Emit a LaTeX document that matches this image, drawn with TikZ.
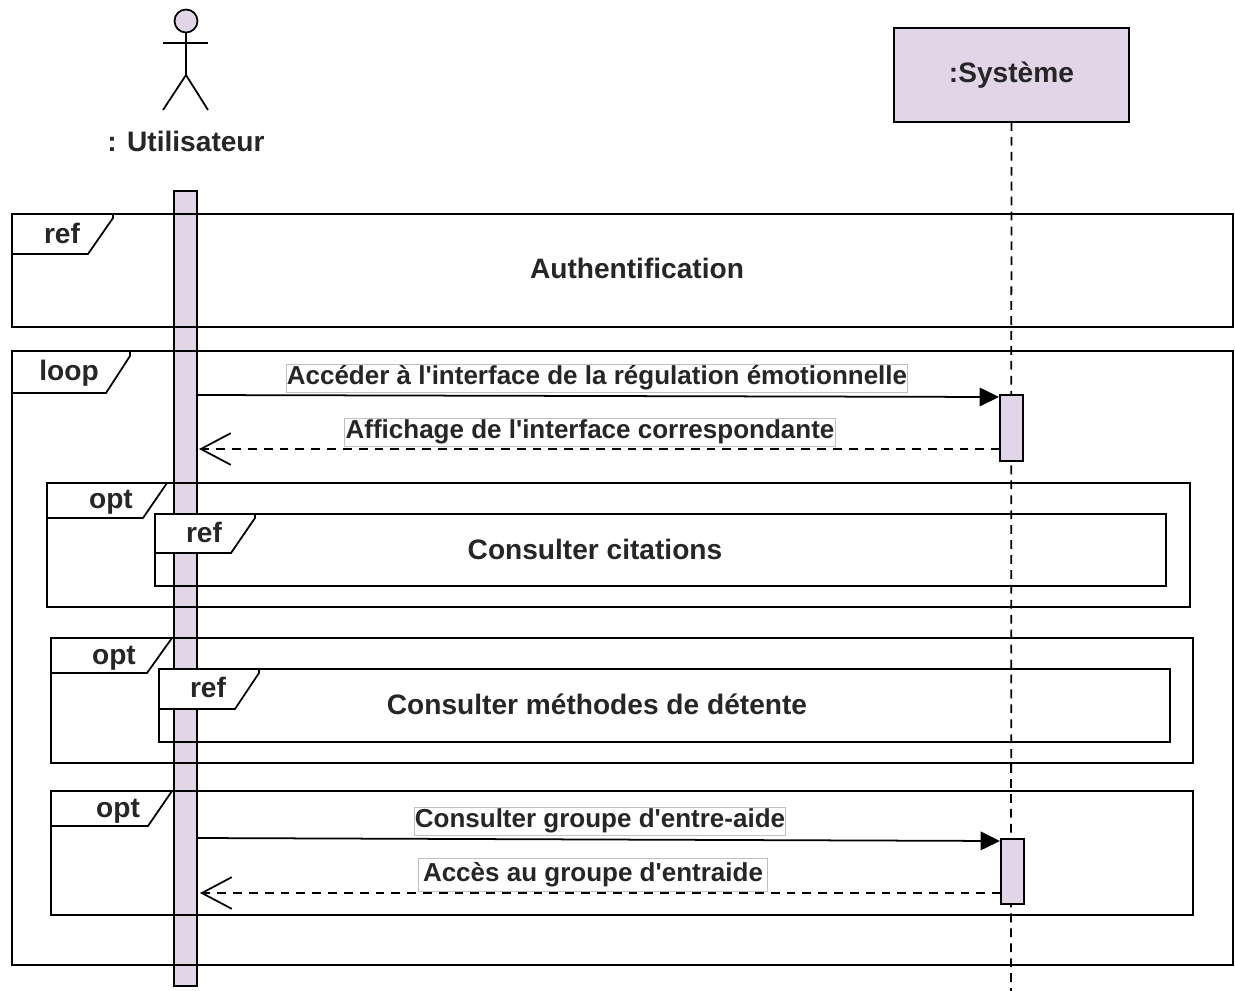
\documentclass[tikz,border=0pt]{standalone}
\usepackage{fontspec}
\setmainfont[Ligatures=TeXOff]{Liberation Sans}
\usetikzlibrary{arrows.meta,positioning}
\definecolor{lilac}{HTML}{E1D5E7}

\begin{document}
\begin{tikzpicture}[
  x=0.02cm,y=-0.02cm,line width=1pt,%
  every node/.style={font=\bfseries\fontsize{16}{18}\selectfont,text=black!85,inner sep=0pt,outer sep=0pt},%
  frame/.style={draw,anchor=north west},%
  tab/.style={draw,fill=white,line join=miter},%
  bar/.style={draw,fill=lilac,anchor=north west,minimum width=0.46cm},%
  msg/.style={font=\bfseries\fontsize{14.8}{16}\selectfont,draw=black!25,line width=.5pt,fill=white,inner sep=.4pt,minimum height=.56cm},%
  call/.style={-{Triangle[length=11pt,width=10.5pt]}},%
  back/.style={dashed,dash pattern=on 5pt off 4pt,-{Straight Barb[length=17pt,width=18pt,line width=1pt]}},%
  ]
  \useasboundingbox (0,0) rectangle (1235,991);
  % lifelines
  \node (ul) [bar,minimum height=15.9cm] at (174,191) {};
  \node (sys) [draw,fill=lilac,anchor=north west,minimum width=4.7cm,minimum height=1.88cm] at (894,28) {:Système};
  % actor
  \node (head) [draw,fill=lilac,circle,minimum size=.46cm] at (186,21) {};
  \coordinate (hip) at (186,75);
  \draw (head) -- (hip);
  \draw (163,43) -- (208,43);
  \draw (163,110) -- (hip) -- (208,110);
  \node (ulname) at (186,141) {: Utilisateur};
  % frames
  \node (f1) [frame,minimum width=24.42cm,minimum height=2.26cm] at (12,214) {};
  \node (f2) [frame,minimum width=24.42cm,minimum height=12.28cm] at (12,351) {};
  \node (f3) [frame,minimum width=22.86cm,minimum height=2.48cm] at (47,483) {};
  \node (f4) [frame,minimum width=22.84cm,minimum height=2.5cm] at (51,638) {};
  \node (f5) [frame,minimum width=22.84cm,minimum height=2.48cm] at (51,791) {};
  \draw [tab] (f1.north west) -- ++(101,0) -- ++(0,4) -- ++(-25,36) -- ++(-76,0) -- cycle;
  \draw [tab] (f2.north west) -- ++(118,0) -- ++(0,5) -- ++(-24,37) -- ++(-94,0) -- cycle;
  \draw [tab] (f3.north west) -- ++(120,0) -- ++(-24,35) -- ++(-96,0) -- cycle;
  \draw [tab] (f4.north west) -- ++(121,0) -- ++(-25,35) -- ++(-96,0) -- cycle;
  \draw [tab] (f5.north west) -- ++(121,0) -- ++(-24,35) -- ++(-97,0) -- cycle;
  \node (f6) [frame,minimum width=20.22cm,minimum height=1.44cm] at (155,514) {};
  \node (f7) [frame,minimum width=20.22cm,minimum height=1.46cm] at (159,669) {};
  \draw [tab] (f6.north west) -- ++(100,0) -- ++(0,4) -- ++(-24,35) -- ++(-76,0) -- cycle;
  \draw [tab] (f7.north west) -- ++(100,0) -- ++(0,4) -- ++(-24,36) -- ++(-76,0) -- cycle;
  % frame labels
  \node (l1) at (62,233) {ref};
  \node (l2) at (69,373) {loop};
  \node (l3) at (111,502) {opt};
  \node (l4) at (204,532) {ref};
  \node (l5) at (114,658) {opt};
  \node (l6) at (208,687) {ref};
  \node (l7) at (118,811) {opt};
  \node (t1) at (637,268) {Authentification};
  \node (t2) at (595,549) {Consulter citations};
  \node (t3) at (597,704) {Consulter méthodes de détente};
  % system lifeline and activations
  \coordinate (sysend) at (1011,991);
  \draw [dashed,dash pattern=on 5pt off 3.5pt] (sys) -- (sysend);
  \node (act1) [bar,minimum height=1.32cm] at (1000,395) {};
  \node (act2) [bar,minimum height=1.3cm] at (1001,839) {};
  % messages
  \coordinate (m1) at (197,395);
  \coordinate (m2) at (999,397);
  \coordinate (m3) at (1000,449);
  \coordinate (m4) at (199,449);
  \coordinate (m5) at (197,838);
  \coordinate (m6) at (1000,841);
  \coordinate (m7) at (1001,893);
  \coordinate (m8) at (200,893);
  \draw [call] (m1) -- (m2);
  \draw [back] (m3) -- (m4);
  \draw [call] (m5) -- (m6);
  \draw [back] (m7) -- (m8);
  \node (c1) [msg] at (597,378) {Accéder à l'interface de la régulation émotionnelle};
  \node (c2) [msg] at (590,432) {Affichage de l'interface correspondante};
  \node (c3) [msg] at (600,821) {Consulter groupe d'entre-aide};
  \node (c4) [msg,inner sep=2.5pt] at (593,875) {Accès au groupe d'entraide};
\end{tikzpicture}
\end{document}
